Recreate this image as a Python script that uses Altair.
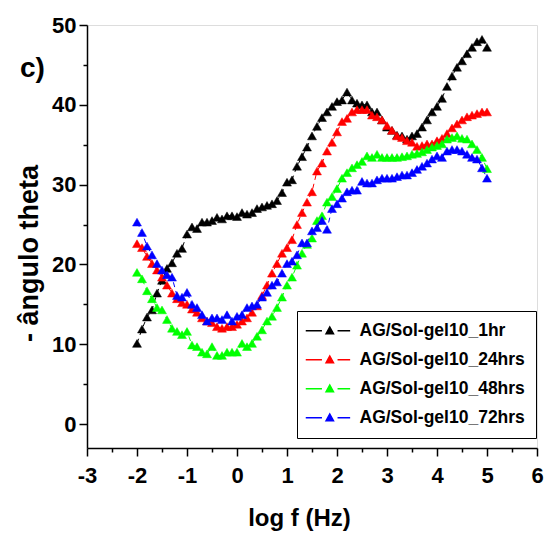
import altair as alt
import pandas as pd

log_f = [-2.0, -1.9, -1.8, -1.7, -1.6, -1.5, -1.4, -1.3, -1.2, -1.1,
         -1.0, -0.9, -0.8, -0.7, -0.6, -0.5, -0.4, -0.3, -0.2, -0.1,
         0.0, 0.1, 0.2, 0.3, 0.4, 0.5, 0.6, 0.7, 0.8, 0.9,
         1.0, 1.1, 1.2, 1.3, 1.4, 1.5, 1.6, 1.7, 1.8, 1.9,
         2.0, 2.1, 2.2, 2.3, 2.4, 2.5, 2.6, 2.7, 2.8, 2.9,
         3.0, 3.1, 3.2, 3.3, 3.4, 3.5, 3.6, 3.7, 3.8, 3.9,
         4.0, 4.1, 4.2, 4.3, 4.4, 4.5, 4.6, 4.7, 4.8, 4.9,
         5.0]

theta_1hr = [10.1, 11.9, 13.4, 14.3, 16.4, 18.0, 19.5, 20.2, 21.4, 22.0,
             23.8, 24.7, 24.5, 25.3, 25.3, 25.5, 25.9, 25.7, 26.1, 26.1,
             26.0, 26.5, 26.3, 26.5, 27.0, 27.2, 27.4, 27.6, 28.0, 29.0,
             30.3, 30.6, 32.3, 33.5, 34.7, 36.1, 37.3, 38.4, 39.1, 39.8,
             40.4, 40.6, 41.6, 40.6, 40.2, 40.0, 40.0, 39.1, 39.1, 38.1,
             37.2, 36.8, 36.2, 36.1, 35.7, 36.1, 36.4, 37.2, 38.1, 39.1,
             39.8, 40.8, 42.3, 43.6, 44.7, 45.5, 46.4, 47.2, 47.9, 48.2,
             47.2]

theta_24hrs = [22.6, 22.1, 21.0, 20.1, 19.3, 18.4, 17.4, 16.4, 15.7, 15.2,
               15.0, 14.4, 14.0, 13.3, 12.9, 12.7, 12.2, 12.0, 12.2, 12.2,
               12.5, 12.9, 13.3, 14.0, 14.8, 16.1, 17.4, 18.9, 20.1, 21.4,
               22.1, 23.1, 25.0, 26.5, 27.8, 29.1, 31.7, 32.7, 34.2, 35.3,
               36.6, 37.9, 38.3, 39.1, 39.4, 39.4, 39.4, 38.7, 38.5, 38.1,
               37.4, 36.8, 36.1, 35.9, 35.5, 35.3, 34.8, 34.9, 35.1, 35.1,
               35.5, 35.8, 36.4, 37.1, 37.6, 38.1, 38.5, 38.7, 38.9, 39.1,
               39.1]

theta_48hrs = [19.0, 18.2, 16.7, 15.7, 14.6, 14.3, 13.1, 12.0, 11.6, 11.2,
               11.6, 9.9, 9.7, 9.0, 8.8, 9.7, 8.6, 8.6, 9.0, 9.0,
               9.0, 10.1, 9.7, 10.1, 11.0, 11.8, 12.9, 13.5, 14.6, 15.9,
               17.4, 18.4, 19.9, 21.4, 22.5, 23.3, 25.5, 26.1, 27.8, 28.5,
               29.5, 30.8, 31.5, 32.1, 32.5, 32.9, 33.6, 33.4, 33.8, 33.4,
               33.4, 33.4, 33.4, 33.5, 33.6, 33.8, 33.9, 34.1, 34.4, 34.7,
               34.9, 35.1, 35.7, 35.9, 36.1, 35.8, 35.7, 35.1, 34.4, 33.4,
               32.0]

theta_72hrs = [25.3, 24.0, 22.3, 21.2, 20.1, 19.3, 18.7, 18.4, 16.1, 15.9,
               16.5, 15.0, 14.6, 13.7, 12.9, 13.3, 13.3, 13.1, 13.7, 12.9,
               13.5, 13.7, 14.6, 14.8, 15.0, 15.9, 16.5, 17.4, 17.8, 18.9,
               20.1, 20.4, 21.2, 22.7, 22.7, 24.2, 24.6, 25.5, 24.4, 27.0,
               27.6, 28.3, 29.1, 29.3, 29.3, 30.4, 30.2, 30.2, 30.6, 30.8,
               30.8, 30.8, 31.0, 31.2, 31.2, 31.5, 31.9, 32.3, 32.7, 33.2,
               33.6, 33.4, 34.2, 34.4, 34.4, 34.2, 33.8, 33.4, 33.2, 32.1,
               30.8]

series_names = ["AG/Sol-gel10_1hr", "AG/Sol-gel10_24hrs",
                "AG/Sol-gel10_48hrs", "AG/Sol-gel10_72hrs"]
series_colors = ["#000000", "#ff0000", "#00ff00", "#0000ff"]
series_values = [theta_1hr, theta_24hrs, theta_48hrs, theta_72hrs]

x_tick_values = [-3, -2.5, -2, -1.5, -1, -0.5, 0, 0.5, 1, 1.5, 2, 2.5,
                 3, 3.5, 4, 4.5, 5, 5.5, 6]
y_tick_values = [0, 5, 10, 15, 20, 25, 30, 35, 40, 45, 50]

rows = []
for k, (name, vals) in enumerate(zip(series_names, series_values)):
    for xv, yv in zip(log_f, vals):
        rows.append({"logf": xv, "theta": yv, "serie": name, "k": k})
df = pd.DataFrame(rows)

FONT = "Liberation Sans"
W, H = 450, 423

color_scale = alt.Scale(domain=series_names, range=series_colors)
line_scale = alt.Scale(domain=[0, 1, 2, 3], range=series_colors)
xscale = alt.Scale(domain=[-3, 6], nice=False, zero=False)
yscale = alt.Scale(domain=[-3, 50], nice=False, zero=False)

x_axis = alt.Axis(
    values=x_tick_values, grid=False, title="log f (Hz)",
    labelExpr="datum.value % 1 == 0 ? '' + datum.value : ''",
    tickSize={"condition": {"test": "datum.value % 1 == 0", "value": 8}, "value": 4},
    labelPadding=9, labelFont=FONT, labelFontSize=22, labelFontWeight="bold",
    labelColor="black", labelFlush=False, labelOverlap=False,
    titleFont=FONT, titleFontSize=24, titleFontWeight="bold", titleColor="black",
    titleX=212, titleY=77, titleBaseline="alphabetic", titleAnchor="middle",
    domainColor="black", domainWidth=1.5, tickColor="black", tickWidth=1.5,
)
y_axis = alt.Axis(
    values=y_tick_values, grid=False, title="- ângulo theta",
    labelExpr="datum.value % 10 == 0 ? '' + datum.value : ''",
    tickSize={"condition": {"test": "datum.value % 10 == 0", "value": 8}, "value": 4},
    labelPadding=3, labelFont=FONT, labelFontSize=22, labelFontWeight="bold",
    labelColor="black", labelFlush=False, labelOverlap=False,
    titleFont=FONT, titleFontSize=27, titleFontWeight="bold", titleColor="black",
    titleX=-50, titleY=228, titleBaseline="alphabetic", titleAlign="center",
    domainColor="black", domainWidth=1.5, tickColor="black", tickWidth=1.5,
)

legend_symbol = "M-4,0L-1.3,0M1.3,0L3.4,0M-0.62,0.5L0,-0.62L0.62,0.5Z"
legend = alt.Legend(
    title=None, orient="none", legendX=210, legendY=286,
    symbolType=legend_symbol, symbolSize=144, symbolStrokeWidth=1.5,
    symbolOpacity=1, symbolOffset=13, labelOffset=21,
    labelFont=FONT, labelFontSize=17.5, labelFontWeight="bold",
    labelColor="black", labelLimit=400, padding=11, rowPadding=10,
    strokeColor="black", fillColor="white",
)

base = alt.Chart(df).encode(
    x=alt.X("logf:Q", scale=xscale, axis=x_axis),
    y=alt.Y("theta:Q", scale=yscale, axis=y_axis),
)

lines = base.mark_line(strokeWidth=1, strokeDash=[5, 4]).encode(
    color=alt.Color("k:N", scale=line_scale, legend=None),
    order=alt.Order("logf:Q"),
)

points = base.mark_point(shape="triangle-up", filled=True, size=80,
                         opacity=1, strokeWidth=0.5).encode(
    fill=alt.Fill("serie:N", scale=color_scale, legend=legend),
    stroke=alt.Stroke("serie:N", scale=color_scale, legend=legend),
)

label_c = alt.Chart(pd.DataFrame({"t": ["c)"]})).mark_text(
    text="c)", font=FONT, fontSize=28, fontWeight="bold", color="black",
    align="left", baseline="alphabetic",
).encode(x=alt.value(-67), y=alt.value(52))

chart = alt.layer(lines, points, label_c).properties(
    width=W, height=H,
    autosize=alt.AutoSizeParams(type="none"),
    padding={"left": 87, "top": 25, "right": 10, "bottom": 86},
).configure_view(stroke=None).configure(background="white")

chart.save("out.html", embed_options={"renderer": "svg", "actions": False})
